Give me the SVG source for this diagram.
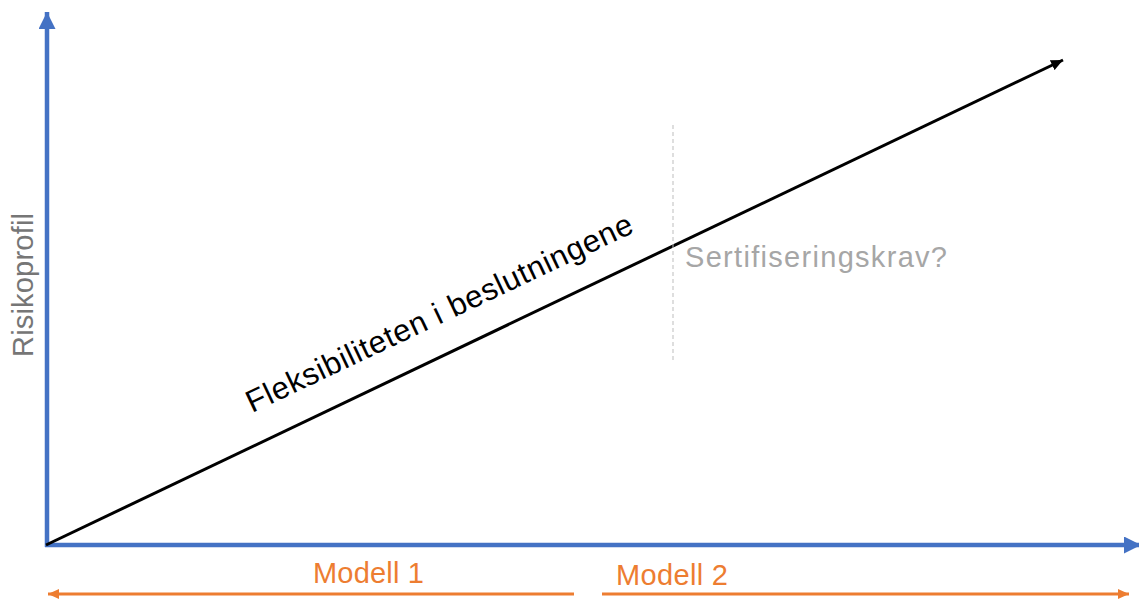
<svg xmlns="http://www.w3.org/2000/svg" width="1139" height="601" viewBox="0 0 1139 601">
<style>
.axis{stroke:#4472C4;stroke-width:4.5;fill:none}
.orange{stroke:#ED7D31;stroke-width:3;fill:none}
.lbl{font-family:"Liberation Sans",Arial,sans-serif}
</style>
<defs>
<marker id="ah-blue" markerUnits="userSpaceOnUse" markerWidth="18" markerHeight="18" refX="17" refY="8.5" orient="auto"><path d="M0,0 L17,8.5 L0,17 Z" fill="#4472C4"/></marker>
<marker id="ah-orange" markerUnits="userSpaceOnUse" markerWidth="12" markerHeight="10" refX="11" refY="5" orient="auto"><path d="M0,0 L11,5 L0,10 Z" fill="#ED7D31"/></marker>
<marker id="ah-black" markerUnits="userSpaceOnUse" markerWidth="13" markerHeight="11" refX="12" refY="5.5" orient="auto"><path d="M0,0 L12,5.5 L0,11 Z" fill="#000"/></marker>
</defs>
<rect width="1139" height="601" fill="#ffffff"/>
<g id="connectors">
<line id="y-axis" class="axis" x1="47" y1="547" x2="47" y2="12" marker-end="url(#ah-blue)"/>
<line id="x-axis" class="axis" x1="45" y1="545" x2="1141" y2="545" marker-end="url(#ah-blue)"/>
<line id="trend" x1="46" y1="545" x2="1063" y2="60" stroke="#000" stroke-width="3" marker-end="url(#ah-black)"/>
<line id="divider" x1="673" y1="125" x2="673" y2="362" stroke="#bdbdbd" stroke-width="1" stroke-dasharray="4 3"/>
<line id="modell1-arrow" class="orange" x1="574" y1="594" x2="48" y2="594" marker-end="url(#ah-orange)"/>
<line id="modell2-arrow" class="orange" x1="602" y1="594" x2="1129" y2="594" marker-end="url(#ah-orange)"/>
</g>
<g id="label-risikoprofil">
<text class="lbl" transform="translate(33,357) rotate(-90)" font-size="29" fill="#767676" textLength="144" lengthAdjust="spacing">Risikoprofil</text>
</g>
<g id="label-fleksibilitet">
<text class="lbl" transform="translate(252,413) rotate(-25.3)" font-size="31" fill="#000" textLength="424" lengthAdjust="spacing">Fleksibiliteten i beslutningene</text>
</g>
<g id="label-sertifisering">
<text class="lbl" x="685" y="267" font-size="29" fill="#a6a6a6" textLength="262" lengthAdjust="spacing">Sertifiseringskrav?</text>
</g>
<g id="label-modell1">
<text class="lbl" x="313" y="583" font-size="29" fill="#ED7D31" textLength="111" lengthAdjust="spacing">Modell 1</text>
</g>
<g id="label-modell2">
<text class="lbl" x="616" y="585" font-size="29" fill="#ED7D31" textLength="112" lengthAdjust="spacing">Modell 2</text>
</g>
</svg>
